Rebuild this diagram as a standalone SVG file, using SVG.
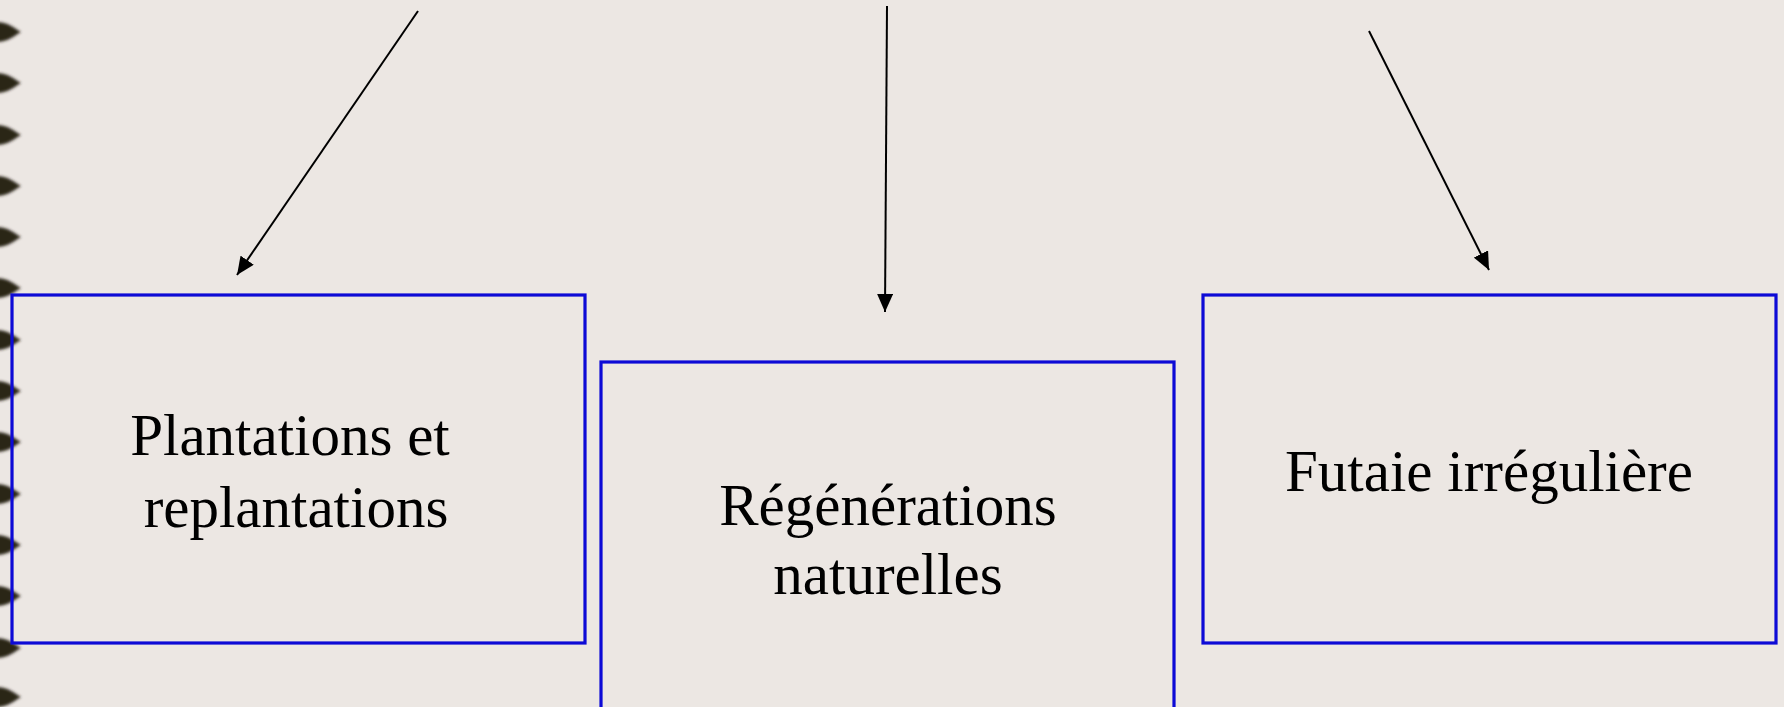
<svg xmlns="http://www.w3.org/2000/svg" width="1784" height="707" viewBox="0 0 1784 707">
<defs>
<style>
.box{fill:none;stroke:#0d0ad6;stroke-width:3.2}
.lbl{font-family:"Liberation Serif","Times New Roman",serif;font-size:59px;fill:#000;text-anchor:middle}
.conn{stroke:#000;stroke-width:2;fill:none;marker-end:url(#ah)}
.ring{fill:#2b2619}
</style>
<marker id="ah" markerWidth="18" markerHeight="16" refX="18" refY="8" orient="auto" markerUnits="userSpaceOnUse">
<path d="M0,0 L18,8 L0,16 z" fill="#000"/>
</marker>
<filter id="blur" x="-50%" y="-50%" width="200%" height="200%">
<feGaussianBlur stdDeviation="1.4"/>
</filter>
<path id="mark" d="M-4,-10 C8,-10 14,-4 21,0 C14,4 8,10 -4,10 Z"/>
</defs>
<rect width="1784" height="707" fill="#ece7e3"/>
<g id="binding" filter="url(#blur)">
<g class="ring">
<use href="#mark" x="0" y="32"/>
<use href="#mark" x="0" y="83"/>
<use href="#mark" x="0" y="135"/>
<use href="#mark" x="0" y="186"/>
<use href="#mark" x="0" y="237"/>
<use href="#mark" x="0" y="288"/>
<use href="#mark" x="0" y="340"/>
<use href="#mark" x="0" y="391"/>
<use href="#mark" x="0" y="442"/>
<use href="#mark" x="0" y="494"/>
<use href="#mark" x="0" y="545"/>
<use href="#mark" x="0" y="596"/>
<use href="#mark" x="0" y="648"/>
<use href="#mark" x="0" y="697"/>
</g>
</g>
<g id="connectors">
<line class="conn" x1="418" y1="11" x2="237" y2="275"/>
<line class="conn" x1="887" y1="6" x2="885" y2="312"/>
<line class="conn" x1="1369" y1="31" x2="1489" y2="270"/>
</g>
<g id="node-plantations">
<rect class="box" x="12" y="295" width="573" height="348"/>
<text class="lbl" x="290" y="455">Plantations et</text>
<text class="lbl" x="296" y="527">replantations</text>
</g>
<g id="node-regenerations">
<rect class="box" x="601" y="362" width="573" height="360"/>
<text class="lbl" x="888" y="525">Régénérations</text>
<text class="lbl" x="888" y="594">naturelles</text>
</g>
<g id="node-futaie">
<rect class="box" x="1203" y="295" width="573" height="348"/>
<text class="lbl" x="1489" y="491">Futaie irrégulière</text>
</g>
</svg>
